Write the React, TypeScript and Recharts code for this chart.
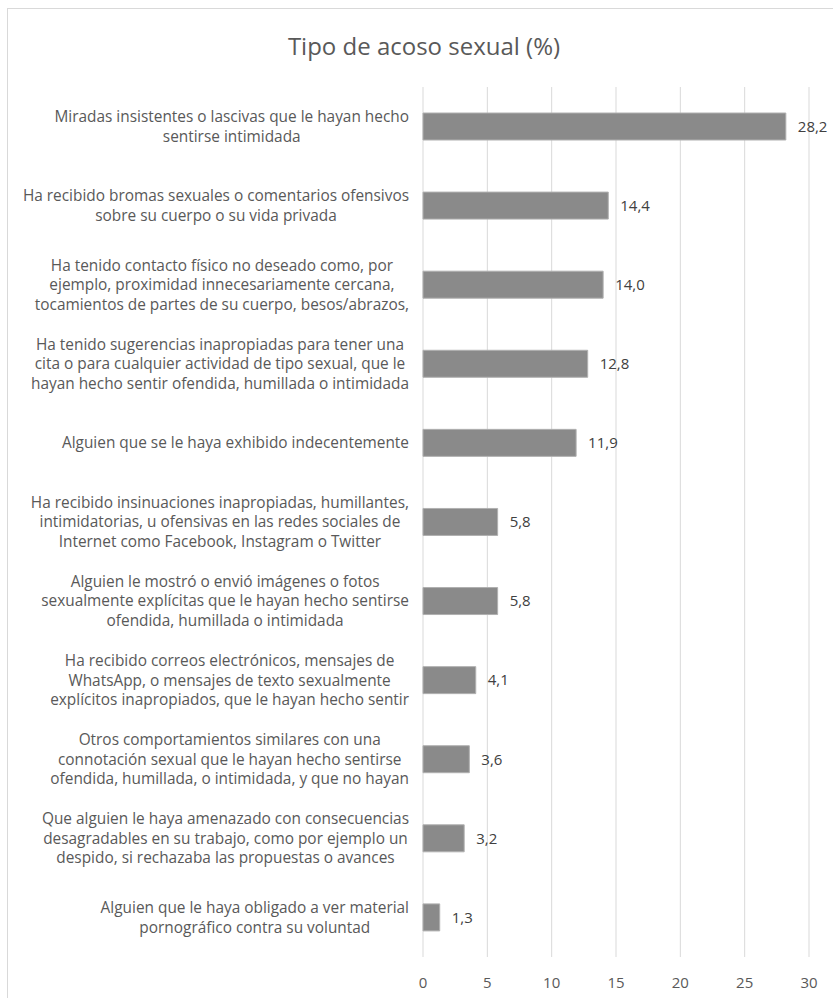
import React from 'react';
import { BarChart, Bar, XAxis, YAxis, CartesianGrid, LabelList } from 'recharts';

// Categorías (saltos de línea como en el original)
const categories = [
  'Miradas insistentes o lascivas que le hayan hecho\nsentirse intimidada',
  'Ha recibido bromas sexuales o comentarios ofensivos\nsobre su cuerpo o su vida privada',
  'Ha tenido contacto físico no deseado como, por\nejemplo, proximidad innecesariamente cercana,\ntocamientos de partes de su cuerpo, besos/abrazos,',
  'Ha tenido sugerencias inapropiadas para tener una\ncita o para cualquier actividad de tipo sexual, que le\nhayan hecho sentir ofendida, humillada o intimidada',
  'Alguien que se le haya exhibido indecentemente',
  'Ha recibido insinuaciones inapropiadas, humillantes,\nintimidatorias, u ofensivas en las redes sociales de\nInternet como Facebook, Instagram o Twitter',
  'Alguien le mostró o envió imágenes o fotos\nsexualmente explícitas que le hayan hecho sentirse\nofendida, humillada o intimidada',
  'Ha recibido correos electrónicos, mensajes de\nWhatsApp, o mensajes de texto sexualmente\nexplícitos inapropiados, que le hayan hecho sentir',
  'Otros comportamientos similares con una\nconnotación sexual que le hayan hecho sentirse\nofendida, humillada, o intimidada, y que no hayan',
  'Que alguien le haya amenazado con consecuencias\ndesagradables en su trabajo, como por ejemplo un\ndespido, si rechazaba las propuestas o avances',
  'Alguien que le haya obligado a ver material\npornográfico contra su voluntad',
];

const values = [28.2, 14.4, 14.0, 12.8, 11.9, 5.8, 5.8, 4.1, 3.6, 3.2, 1.3];

const xTicks = [0, 5, 10, 15, 20, 25, 30];

const data = categories.map((name, i) => ({ name, value: values[i] }));

const FONT = "'Open Sans', 'Liberation Sans', Arial, sans-serif";
const LABEL_SIZE = 15.4;
const LINE_HEIGHT = 19.5;
const TEXT_COLOR = '#595959';

// medir el ancho de texto para centrar cada línea dentro del bloque
let ctx: CanvasRenderingContext2D | null = null;
function measure(text: string) {
  if (!ctx) ctx = document.createElement('canvas').getContext('2d');
  if (!ctx) return text.length * 7.5;
  ctx.font = `${LABEL_SIZE}px ${FONT}`;
  return ctx.measureText(text).width;
}

function CategoryTick(props: any) {
  const { y, payload } = props;
  const lines: string[] = String(payload.value).split('\n');
  const blockWidth = Math.max(...lines.map(measure));
  const right = 409;
  const cx = right - blockWidth / 2;
  const startY = y - ((lines.length - 1) * LINE_HEIGHT) / 2;
  return (
    <text
      textAnchor="middle"
      fontFamily={FONT}
      fontSize={LABEL_SIZE}
      fill={TEXT_COLOR}
    >
      {lines.map((line, i) => (
        <tspan key={i} x={cx} y={startY + i * LINE_HEIGHT} dy="0.35em">
          {line}
        </tspan>
      ))}
    </text>
  );
}

export default function App() {
  return (
    <div style={{ position: 'absolute', left: 0, top: 0, width: 833, height: 998, background: '#fff' }}>
      <div
        style={{
          position: 'absolute',
          left: 7,
          top: 8,
          width: 840,
          height: 992,
          border: '1px solid #d9d9d9',
          boxSizing: 'border-box',
        }}
      />
      <div
        style={{
          position: 'absolute',
          left: 0,
          top: 29,
          width: 848,
          textAlign: 'center',
          fontFamily: FONT,
          fontSize: 24,
          color: TEXT_COLOR,
        }}
      >
        Tipo de acoso sexual (%)
      </div>
      <div style={{ position: 'absolute', left: 0, top: 0 }}>
        <BarChart
          width={833}
          height={998}
          data={data}
          layout="vertical"
          margin={{ top: 87, right: 24, bottom: 0, left: 0 }}
          barSize={27}
        >
          <CartesianGrid horizontal={false} vertical={true} stroke="#d9d9d9" />
          <XAxis
            type="number"
            domain={[0, 30]}
            ticks={xTicks}
            interval={0}
            height={41}
            axisLine={false}
            tickLine={false}
            tickMargin={14}
            tick={{ fill: TEXT_COLOR, fontSize: 15, fontFamily: FONT }}
          />
          <YAxis
            type="category"
            dataKey="name"
            width={423}
            axisLine={false}
            tickLine={false}
            interval={0}
            tick={<CategoryTick />}
          />
          <Bar dataKey="value" fill="#8a8a8a" stroke="#b0b0b0" strokeWidth={1} isAnimationActive={false}>
            <LabelList
              dataKey="value"
              position="right"
              offset={12}
              fill="#404040"
              fontSize={15}
              fontFamily={FONT}
              formatter={(v: any) => Number(v).toFixed(1).replace('.', ',')}
            />
          </Bar>
        </BarChart>
      </div>
    </div>
  );
}
